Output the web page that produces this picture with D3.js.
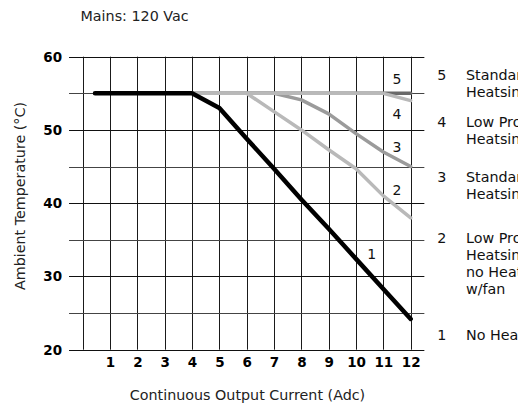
<!DOCTYPE html>
<html>
<head>
<meta charset="utf-8">
<script src="https://cdn.jsdelivr.net/npm/d3@7"></script>
<style>
  html, body { margin: 0; padding: 0; background: #fff; }
  svg { display: block; font-family: "DejaVu Sans", Verdana, sans-serif; }
</style>
</head>
<body>
<svg id="chart" width="518" height="406"></svg>
<script>
// Derating curves: ambient temperature vs. continuous output current
const currentTicks = [1, 2, 3, 4, 5, 6, 7, 8, 9, 10, 11, 12];
const tempTicks = [20, 30, 40, 50, 60];

const curve1 = [[0.45, 55], [4, 55], [5, 53], [6, 48.8], [7, 44.7], [8, 40.5], [9, 36.5], [10, 32.4], [11, 28.3], [12, 24.2]];
const curve2 = [[4, 55], [6, 55], [7, 52.5], [8, 50], [9, 47.3], [10, 44.7], [11, 41], [12, 38]];
const curve3 = [[4, 55], [7, 55], [8, 54.1], [9, 52.2], [10, 49.5], [11, 47], [12, 45]];
const curve4 = [[4, 55], [11, 55], [12, 54]];
const curve5 = [[4, 55], [12, 55]];

const legendNums = ["5", "4", "3", "2", "1"];
const legendText = [
  ["Standard", "Heatsink w/fan"],
  ["Low Profile", "Heatsink w/fan"],
  ["Standard", "Heatsink"],
  ["Low Profile", "Heatsink or", "no Heatsink", "w/fan"],
  ["No Heatsink"]
];

const FS = 14.3;
const svg = d3.select("#chart");
const x = d3.scaleLinear().domain([0, 12]).range([82.7, 410.7]);
const y = d3.scaleLinear().domain([20, 60]).range([349.7, 56.7]);

// grid
const grid = svg.append("g");
grid.selectAll("line.v").data(d3.range(0, 13)).enter().append("line")
  .attr("x1", d => Math.round(x(d)) + 0.5).attr("x2", d => Math.round(x(d)) + 0.5)
  .attr("y1", y(60)).attr("y2", y(20))
  .attr("stroke", "#1a1a1a").attr("stroke-width", 1);
grid.selectAll("line.h").data(d3.range(20, 61, 5)).enter().append("line")
  .attr("x1", x(-0.5)).attr("x2", x(12.5))
  .attr("y1", d => Math.round(y(d)) + 0.5).attr("y2", d => Math.round(y(d)) + 0.5)
  .attr("stroke", d => d % 10 === 0 ? "#111" : "#444").attr("stroke-width", 1);

// axis tick labels (no tick marks, no domain line)
const yAxis = svg.append("g").attr("transform", `translate(${x(-0.5) - 5},0)`)
  .call(d3.axisLeft(y).tickValues(tempTicks).tickSize(0).tickPadding(2));
const xAxis = svg.append("g").attr("transform", `translate(0,${y(20) + 5})`)
  .call(d3.axisBottom(x).tickValues(currentTicks).tickSize(0).tickPadding(3));
[yAxis, xAxis].forEach(a => {
  a.select(".domain").remove();
  a.selectAll("text").attr("font-family", "DejaVu Sans, Verdana, sans-serif")
    .attr("font-weight", "bold").attr("font-size", 13.5).attr("fill", "#000");
});

// curves
const line = d3.line().x(d => x(d[0])).y(d => y(d[1]));
const curves = [
  { data: curve5, color: "#6a6a6a", w: 3.5 },
  { data: curve3, color: "#9b9b9b", w: 3.5 },
  { data: curve2, color: "#b9b9b9", w: 3.5 },
  { data: curve4, color: "#b9b9b9", w: 3.5 },
  { data: curve1, color: "#000000", w: 4.5 }
];
svg.append("g").selectAll("path").data(curves).enter().append("path")
  .attr("d", d => line(d.data)).attr("fill", "none")
  .attr("stroke", d => d.color).attr("stroke-width", d => d.w)
  .attr("stroke-linecap", "round").attr("stroke-linejoin", "round");

// curve numbers placed next to each curve (x in amps, baseline in °C)
const inline = [["5", 11.5, 56.3], ["4", 11.5, 51.5], ["3", 11.5, 47.0], ["2", 11.5, 41.1], ["1", 10.57, 32.4]];
svg.append("g").selectAll("text").data(inline).enter().append("text")
  .attr("x", d => x(d[1])).attr("y", d => y(d[2]))
  .attr("text-anchor", "middle")
  .attr("font-size", 14).attr("fill", "#111").text(d => d[0]);

// legend at right
const legendY = [79.5, 127, 181.7, 243.3, 340];
const lg = svg.append("g");
legendNums.forEach((n, i) => {
  lg.append("text").attr("x", 441.7).attr("y", legendY[i])
    .attr("text-anchor", "middle")
    .attr("font-size", FS).attr("fill", "#111").text(n);
  legendText[i].forEach((t, j) => {
    lg.append("text").attr("x", 466).attr("y", legendY[i] + j * 17)
      .attr("font-size", FS).attr("fill", "#111").text(t);
  });
});

// titles
svg.append("text").attr("x", 80.5).attr("y", 21.3)
  .attr("font-size", FS).attr("fill", "#222").text("Mains: 120 Vac");
svg.append("text").attr("transform", "translate(25,196) rotate(-90)")
  .attr("text-anchor", "middle")
  .attr("font-size", FS).attr("fill", "#222").text("Ambient Temperature (°C)");
svg.append("text").attr("x", 247.5).attr("y", 400).attr("text-anchor", "middle")
  .attr("font-size", FS).attr("fill", "#222").text("Continuous Output Current (Adc)");
</script>
</body>
</html>
